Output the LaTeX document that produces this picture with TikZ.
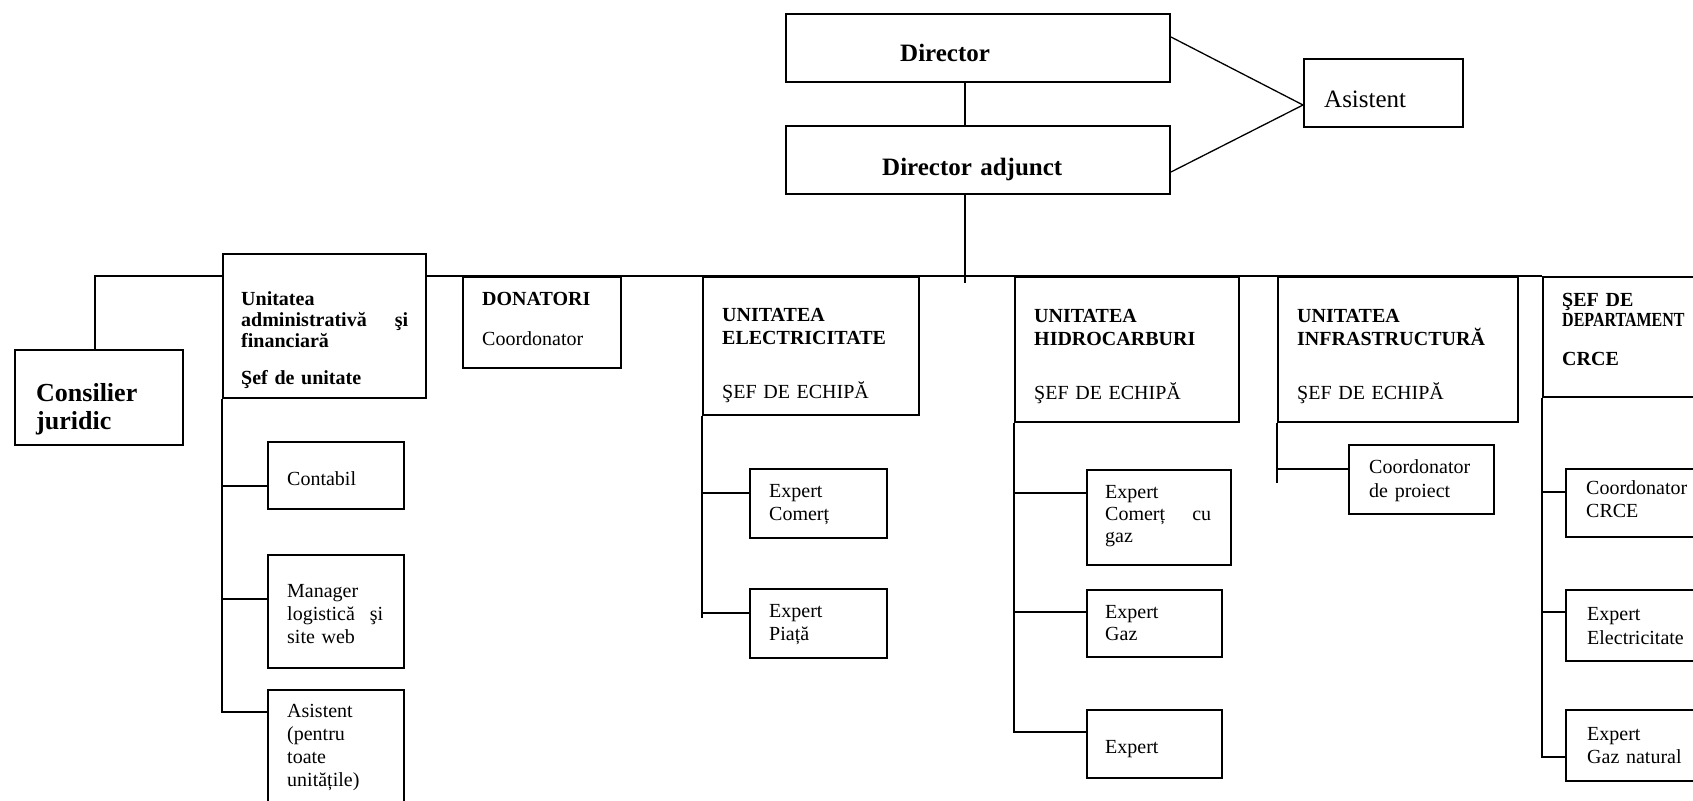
\documentclass[tikz,border=0pt]{standalone}
\usepackage{fontspec}
\setmainfont{Liberation Serif}
\usetikzlibrary{calc}
\newcommand{\fs}[2]{\fontsize{#1bp}{#2bp}\selectfont}
\newcommand{\bx}[5]{\node[bx,minimum width=#4bp,minimum height=#5bp] (#1) at (#2,#3) {};}
\tikzset{
  bx/.style={draw, rectangle, line width=2bp, anchor=north west, inner sep=0pt},
  ln/.style={line width=1.8bp},
  thinln/.style={line width=1.3bp},
  tx/.style={anchor=base west, inner sep=0pt, align=left, text width=#1, font=\fs{20}{23}},
  tx/.default=300bp
}
\begin{document}
\begin{tikzpicture}[x=1bp,y=-1bp]
\useasboundingbox (0,0) rectangle (1693,801);
\fill[white] (0,0) rectangle (1693,801);
\clip (0,0) rectangle (1693,801);
% boxes
\bx{dir}{785}{13}{384}{68}
\bx{adj}{785}{125}{384}{68}
\bx{asist}{1303}{58}{159}{68}
\bx{cons}{14}{349}{168}{95}
\bx{unadm}{222}{253}{203}{144}
\bx{don}{462}{276}{158}{91}
\bx{elec}{702}{276}{216}{138}
\bx{hid}{1014}{276}{224}{145}
\bx{inf}{1277}{276}{240}{145}
\bx{crce}{1542}{276}{200}{120}
\bx{cont}{267}{441}{136}{67}
\bx{mgr}{267}{554}{136}{113}
\bx{asis2}{267}{689}{136}{130}
\bx{ecom}{749}{468}{137}{69}
\bx{epia}{749}{588}{137}{69}
\bx{hcom}{1086}{469}{144}{95}
\bx{hgaz}{1086}{589}{135}{67}
\bx{hexp}{1086}{709}{135}{68}
\bx{coordp}{1348}{444}{145}{69}
\bx{ccrce}{1565}{468}{200}{68}
\bx{eel}{1565}{589}{200}{71}
\bx{egn}{1565}{709}{200}{71}
% texts
\node[tx,font=\fs{25}{27}\bfseries] (t-dir) at (900,62) {Director};
\node[tx,font=\fs{25}{27}\bfseries] (t-adj) at (882,175) {Director adjunct};
\node[tx,font=\fs{25}{27}] (t-asist) at (1324,107) {Asistent};
\node[tx,font=\fs{26}{28}\bfseries] (t-cons) at (36,401) {Consilier\\juridic};
\node[tx=167bp,font=\fs{20}{21}\bfseries] (t-unadm) at (241,305) {Unitatea\\administrativă\hfill şi\\financiară\\[16bp]Şef de unitate};
\node[tx] (t-don) at (482,305) {\textbf{DONATORI}\\[17bp]Coordonator};
\node[tx] (t-elec) at (722,321) {\textbf{UNITATEA}\\\textbf{ELECTRICITATE}\\[31bp]ŞEF DE ECHIPĂ};
\node[tx] (t-hid) at (1034,322) {\textbf{UNITATEA}\\\textbf{HIDROCARBURI}\\[31bp]ŞEF DE ECHIPĂ};
\node[tx] (t-inf) at (1297,322) {\textbf{UNITATEA}\\\textbf{INFRASTRUCTURĂ}\\[31bp]ŞEF DE ECHIPĂ};
\node[tx,font=\fs{20}{20}\bfseries] (t-crce) at (1562,306) {ŞEF DE\\\scalebox{0.8}[1]{DEPARTAMENT}\\[19bp]CRCE};
\node[tx] (t-cont) at (287,485) {Contabil};
\node[tx=96bp] (t-mgr) at (287,597) {Manager\\logistică\hfill şi\\site web};
\node[tx] (t-asis2) at (287,717) {Asistent\\(pentru\\toate\\unitățile)};
\node[tx] (t-ecom) at (769,497) {Expert\\Comerț};
\node[tx] (t-epia) at (769,617) {Expert\\Piață};
\node[tx=106bp,font=\fs{20}{22}] (t-hcom) at (1105,498) {Expert\\Comerț\hfill cu\\gaz};
\node[tx,font=\fs{20}{22}] (t-hgaz) at (1105,618) {Expert\\Gaz};
\node[tx] (t-hexp) at (1105,753) {Expert};
\node[tx,font=\fs{20}{24}] (t-coordp) at (1369,473) {Coordonator\\de proiect};
\node[tx] (t-ccrce) at (1586,494) {Coordonator\\CRCE};
\node[tx,font=\fs{20}{24}] (t-eel) at (1587,620) {Expert\\Electricitate};
\node[tx] (t-egn) at (1587,740) {Expert\\Gaz natural};
% top connectors
\coordinate (dv) at (965,283);
\draw[thinln] (dv |- dir.south) -- (dv |- adj.north);
\draw[thinln] (dv |- adj.south) -- (dv);
\draw[thinln] ([yshift=11bp]dir.east) -- ([yshift=-12bp]asist.west);
\draw[thinln] ([yshift=-12bp]adj.east) -- ([yshift=-12bp]asist.west);
% bus
\draw[ln] ([xshift=-4bp]cons.north) |- ($(unadm.north west)+(0,23)$);
\draw[ln] ($(unadm.north east)+(0,23)$) -- (crce.north west);
% administrative column
\draw[ln] (unadm.south west) |- ($(asis2.north west)+(0,23)$);
\draw[ln] ($(cont.north west)+(0,45)$) coordinate (c1) -- (c1 -| unadm.west);
\draw[ln] ($(mgr.north west)+(0,45)$) coordinate (c2) -- (c2 -| unadm.west);
% electricitate column
\coordinate (elecend) at (702,618);
\draw[ln] (elec.south west) -- (elecend);
\draw[ln] ($(ecom.north west)+(0,25)$) coordinate (c3) -- (c3 -| elec.west);
\draw[ln] ($(epia.north west)+(0,25)$) coordinate (c4) -- (c4 -| elec.west);
% hidrocarburi column
\draw[ln] (hid.south west) |- ($(hexp.north west)+(0,23)$);
\draw[ln] ($(hcom.north west)+(0,24)$) coordinate (c5) -- (c5 -| hid.west);
\draw[ln] ($(hgaz.north west)+(0,23)$) coordinate (c6) -- (c6 -| hid.west);
% infrastructura column
\coordinate (infend) at (1277,483);
\draw[ln] (inf.south west) -- (infend);
\draw[ln] ($(coordp.north west)+(0,25)$) coordinate (c7) -- (c7 -| inf.west);
% crce column
\draw[ln] (crce.south west) |- ($(egn.north west)+(0,48)$);
\draw[ln] ($(ccrce.north west)+(0,24)$) coordinate (c8) -- (c8 -| crce.west);
\draw[ln] ($(eel.north west)+(0,23)$) coordinate (c9) -- (c9 -| crce.west);
\end{tikzpicture}
\end{document}
